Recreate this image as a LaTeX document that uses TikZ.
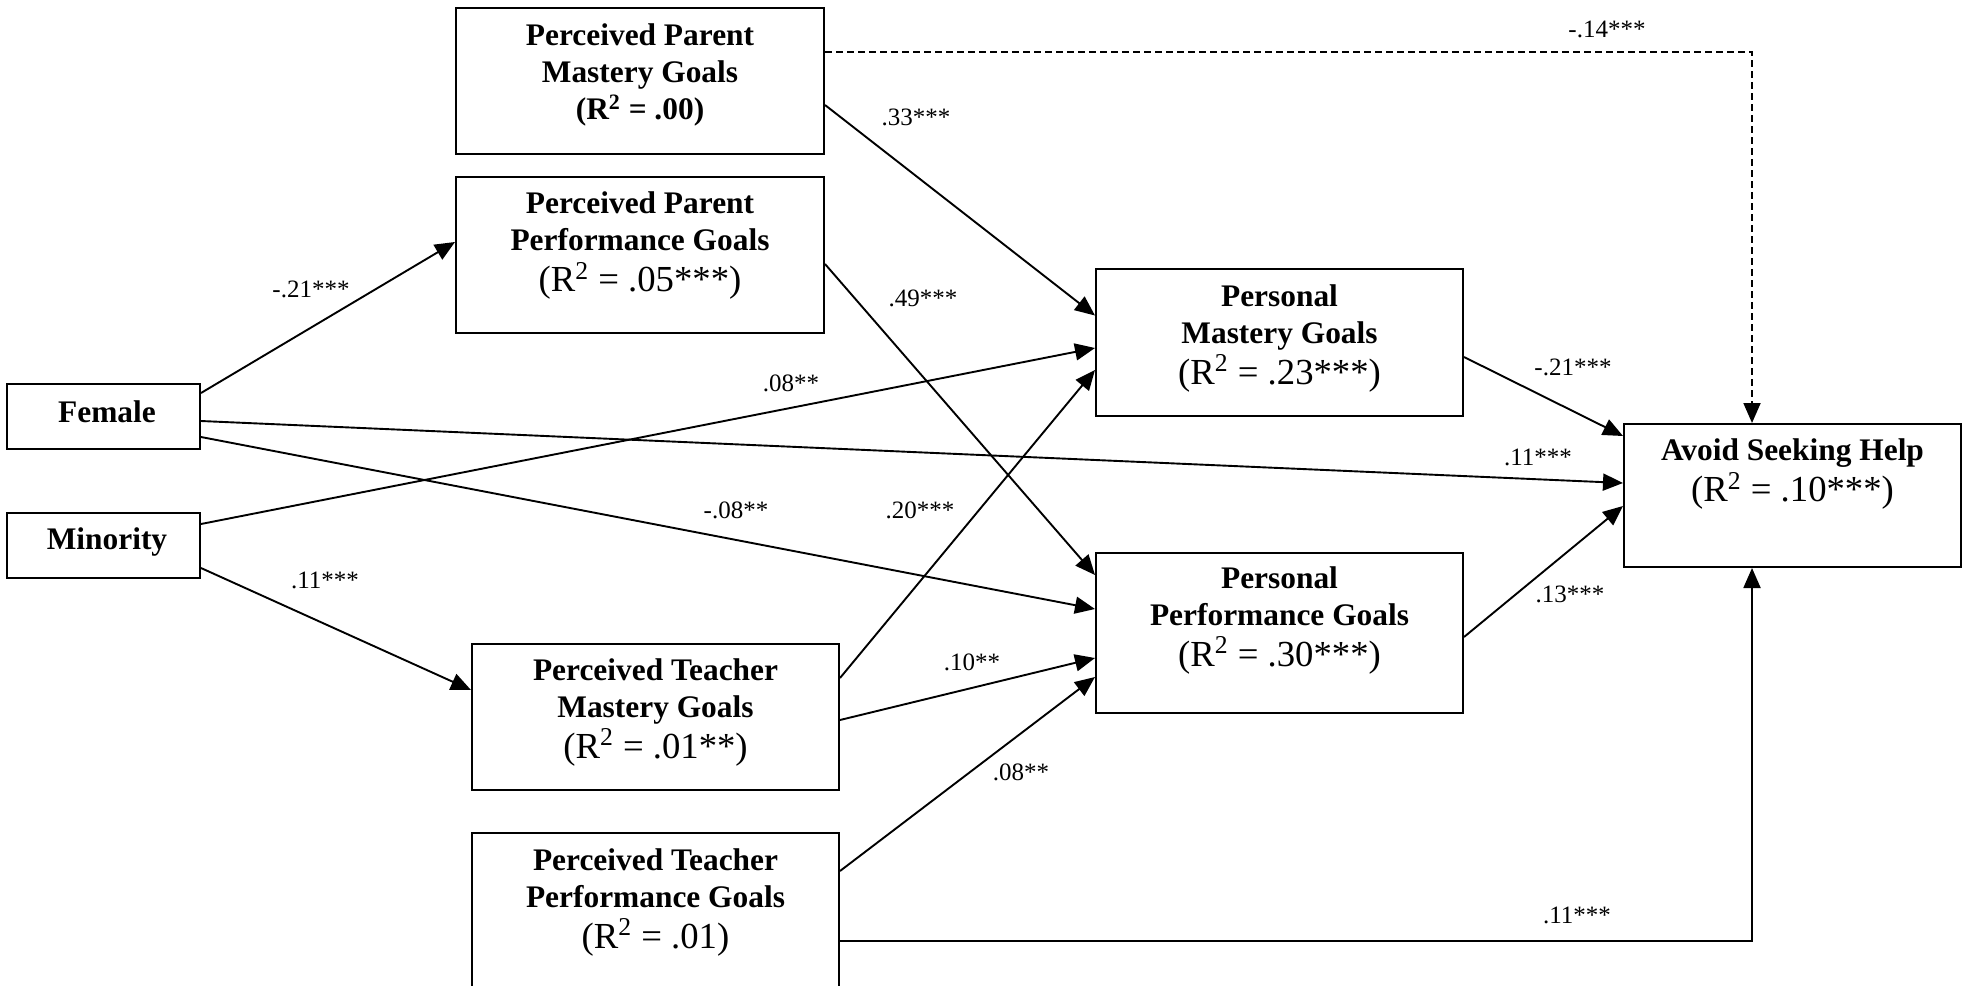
\documentclass[tikz,border=0pt]{standalone}
\usepackage{fontspec}
\setmainfont{Liberation Serif}
\usetikzlibrary{arrows.meta,calc}
\newcommand{\Rtwo}{R\textsuperscript{2}}
\newcommand{\rsqline}[1]{{\mdseries\fontsize{18.35}{20}\selectfont(\Rtwo{} = #1)}}
\begin{document}
\begin{tikzpicture}[x=0.5pt,y=-0.5pt,
  box/.style={draw, line width=1pt, rectangle, inner sep=0pt},
  ttl/.style={align=center, inner sep=0pt, font=\fontsize{15.7}{18.5}\selectfont\bfseries},
  lab/.style={inner sep=0pt, font=\fontsize{12.5}{15}\selectfont},
  arr/.style={line width=0.95pt, -{Triangle[length=10pt,width=8.5pt]}},
  dsh/.style={dash pattern=on 3.5pt off 2pt}
]
\fill[white] (0,0) rectangle (1969,985);
\useasboundingbox (0,0) rectangle (1969,985);

% boxes
\node[box, minimum width=184pt, minimum height=73pt] (ppm) at (640,81) {};
\node[box, minimum width=184pt, minimum height=78pt] (ppp) at (640,255) {};
\node[box, minimum width=96.5pt, minimum height=32.5pt] (fem) at (103.5,416.5) {};
\node[box, minimum width=96.5pt, minimum height=32.5pt] (min) at (103.5,545.5) {};
\node[box, minimum width=183.5pt, minimum height=73.5pt] (pmg) at (1279.5,342.5) {};
\node[box, minimum width=183.5pt, minimum height=80pt] (ppf) at (1279.5,633) {};
\node[box, minimum width=168.5pt, minimum height=71.5pt] (ash) at (1792.5,495.5) {};
\node[box, minimum width=183.5pt, minimum height=73pt] (ptm) at (655.5,717) {};
\node[box, minimum width=183.5pt, minimum height=83.5pt] (ptp) at (655.5,916.5) {};

% texts
\node[ttl] (ppmT) at (640,75) {Perceived Parent\\Mastery Goals\\(\Rtwo{} = .00)};
\node[ttl] (pppT) at (640,246) {Perceived Parent\\Performance Goals\\[2pt]\rsqline{.05***}};
\node[ttl] (femT) at (107,411.5) {Female};
\node[ttl] (minT) at (107,541.5) {Minority};
\node[ttl] (pmgT) at (1279.5,338.5) {Personal\\Mastery Goals\\[2pt]\rsqline{.23***}};
\node[ttl] (ppfT) at (1279.5,620.5) {Personal\\Performance Goals\\[2pt]\rsqline{.30***}};
\node[ttl] (ashT) at (1792.5,474.5) {Avoid Seeking Help\\[2pt]\rsqline{.10***}};
\node[ttl] (ptmT) at (655.5,712.5) {Perceived Teacher\\Mastery Goals\\[2pt]\rsqline{.01**}};
\node[ttl] (ptpT) at (655.5,902.5) {Perceived Teacher\\Performance Goals\\[2pt]\rsqline{.01}};

% connectors
\draw[arr] ($(fem.east)+(0,-23.5)$) -- ($(ppp.west)+(0,-13)$);
\draw[arr] ($(fem.east)+(0,4.5)$) -- ($(ash.west)+(0,-12.5)$);
\draw[arr] ($(fem.east)+(0,20.5)$) -- ($(ppf.west)+(0,-24)$);
\draw[arr] ($(min.east)+(0,-21.5)$) -- ($(pmg.west)+(0,5.5)$);
\draw[arr] ($(min.east)+(0,22.5)$) -- ($(ptm.west)+(0,-27)$);
\draw[arr] ($(ppm.east)+(0,24)$) -- ($(pmg.west)+(0,-27)$);
\draw[arr] ($(ppp.east)+(0,9)$) -- ($(ppf.west)+(0,-58)$);
\draw[arr] ($(ptm.east)+(0,-39)$) -- ($(pmg.west)+(0,27.5)$);
\draw[arr] ($(ptm.east)+(0,3)$) -- ($(ppf.west)+(0,25)$);
\draw[arr] ($(ptp.north east)+(0,39)$) -- ($(ppf.west)+(0,44)$);
\draw[arr] ($(pmg.east)+(0,14.5)$) -- ($(ash.west)+(0,-59.5)$);
\draw[arr] ($(ppf.east)+(0,4)$) -- ($(ash.west)+(0,10.5)$);
\draw[arr, dsh] ($(ppm.east)+(0,-29)$) -| ($(ash.north)+(-40.5,0)$);
\draw[arr] ($(ptp.north east)+(0,109)$) -| ($(ash.south)+(-40.5,0)$);

% labels
\node[lab] (l1) at (1607,29) {-.14***};
\node[lab] (l2) at (916,117) {.33***};
\node[lab] (l3) at (311,289) {-.21***};
\node[lab] (l4) at (923,298) {.49***};
\node[lab] (l5) at (791,383) {.08**};
\node[lab] (l6) at (1573,367) {-.21***};
\node[lab] (l7) at (1538,457) {.11***};
\node[lab] (l8) at (736,510) {-.08**};
\node[lab] (l9) at (920,510) {.20***};
\node[lab] (l10) at (325,580) {.11***};
\node[lab] (l11) at (1570,594) {.13***};
\node[lab] (l12) at (972,662) {.10**};
\node[lab] (l13) at (1021,772) {.08**};
\node[lab] (l14) at (1577,915) {.11***};
\end{tikzpicture}
\end{document}
